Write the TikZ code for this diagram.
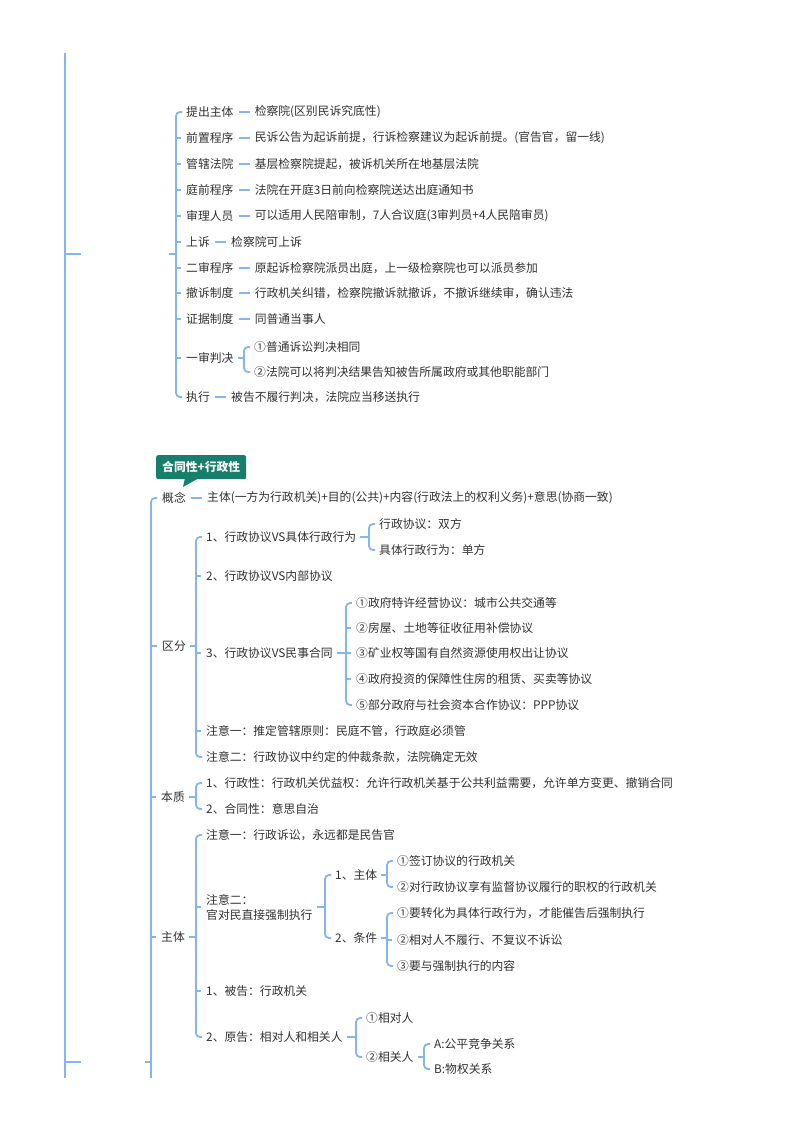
\documentclass[tikz,border=0pt]{standalone}
\usepackage{fontspec}
\setmainfont{Noto Sans CJK SC}
\usetikzlibrary{calc,positioning}
\definecolor{lnc}{RGB}{130,182,236}
\definecolor{txc}{RGB}{50,50,50}
\definecolor{tealc}{RGB}{22,126,106}
\newcommand\dashc[2]{\draw[conn] ($(#1.east)+(5pt,0)$) -- ($(#2.west)+(-5pt,0)$);}
\newcommand\brackii[3]{%
  \draw[conn] ($(#1.east)+(4pt,0)$) -- ($(#2.west |- #1.east)+(-10pt,0)$);
  \draw[conn, rounded corners=4pt] ($(#2.west)+(-4pt,0)$) -- ($(#2.west)+(-10pt,0)$) -- ($(#3.west)+(-10pt,0)$) -- ($(#3.west)+(-4pt,0)$);}
\newcommand\brackn[4]{%
  \brackii{#1}{#2}{#3}%
  \foreach \c in {#4} {\draw[conn] ($(\c.west)+(-10pt,0)$) -- ($(\c.west)+(-5pt,0)$);}}
\begin{document}
\begin{tikzpicture}[x=1pt,y=-1pt,
  conn/.style={draw=lnc, line width=1.8pt},
  txt/.style={anchor=west, inner sep=0pt, text=txc, font=\fontsize{11.8}{15}\selectfont},
  val/.style={txt, right=21pt of #1},
]
\fill[white] (0,0) rectangle (800,1132);
\useasboundingbox (0,0) rectangle (800,1132);

% root line
\coordinate (r0) at (65,53);
\coordinate (r1) at (65,1078);
\coordinate (ra) at (65,254);
\coordinate (rb) at (81,254);
\coordinate (rc) at (65,1062);
\coordinate (rd) at (81,1062);
\draw[conn] (r0) -- (r1);
\draw[conn] (ra) -- (rb);
\draw[conn] (rc) -- (rd);

% ---------- top group ----------
\node[txt] (t1) at (186,112) {提出主体};
\node[txt] (t2) at (186,138) {前置程序};
\node[txt] (t3) at (186,164) {管辖法院};
\node[txt] (t4) at (186,190) {庭前程序};
\node[txt] (t5) at (186,216) {审理人员};
\node[txt] (t6) at (186,242) {上诉};
\node[txt] (t7) at (186,268) {二审程序};
\node[txt] (t8) at (186,293) {撤诉制度};
\node[txt] (t9) at (186,319) {证据制度};
\node[txt] (t10) at (186,358) {一审判决};
\node[txt] (t11) at (186,397) {执行};

\node[val=t1] (v1) {检察院(区别民诉究底性)};
\node[val=t2] (v2) {民诉公告为起诉前提，行诉检察建议为起诉前提。(官告官，留一线)};
\node[val=t3] (v3) {基层检察院提起，被诉机关所在地基层法院};
\node[val=t4] (v4) {法院在开庭3日前向检察院送达出庭通知书};
\node[val=t5] (v5) {可以适用人民陪审制，7人合议庭(3审判员+4人民陪审员)};
\node[val=t6] (v6) {检察院可上诉};
\node[val=t7] (v7) {原起诉检察院派员出庭，上一级检察院也可以派员参加};
\node[val=t8] (v8) {行政机关纠错，检察院撤诉就撤诉，不撤诉继续审，确认违法};
\node[val=t9] (v9) {同普通当事人};
\node[val=t11] (v11) {被告不履行判决，法院应当移送执行};
\node[txt] (j1) at (254,347) {①普通诉讼判决相同};
\node[txt] (j2) at (254,372) {②法院可以将判决结果告知被告所属政府或其他职能部门};

\foreach \a/\b in {t1/v1,t2/v2,t3/v3,t4/v4,t5/v5,t6/v6,t7/v7,t8/v8,t9/v9,t11/v11} {\dashc{\a}{\b}}
\brackii{t10}{j1}{j2}

\coordinate (g1) at (169,254);
\coordinate (g2) at (176,254);
\draw[conn] (g1) -- (g2);
\draw[conn, rounded corners=4pt] ($(t1.west)+(-4pt,0)$) -- ($(t1.west)+(-10pt,0)$) -- ($(t11.west)+(-10pt,0)$) -- ($(t11.west)+(-4pt,0)$);
\foreach \c in {t2,t3,t4,t5,t6,t7,t8,t9,t10} {\draw[conn] ($(\c.west)+(-10pt,0)$) -- ($(\c.west)+(-5pt,0)$);}

% ---------- callout ----------
\node[fill=tealc, text=white, rounded corners=2pt, inner xsep=6pt, minimum height=24pt, anchor=north west,
  font=\fontsize{11.8}{14}\selectfont\bfseries] (co) at (156,455) {合同性+行政性};
\fill[tealc] (185,478) -- (183,487) -- (199,478) -- cycle;

% ---------- second group ----------
\node[txt] (gn) at (162,498) {概念};
\node[val=gn] (gnv) {主体(一方为行政机关)+目的(公共)+内容(行政法上的权利义务)+意思(协商一致)};
\dashc{gn}{gnv}
\node[txt] (qf) at (162,646) {区分};
\node[txt] (bz) at (161,797) {本质};
\node[txt] (zt) at (161,937) {主体};

\coordinate (m0) at (151,1078);
\coordinate (m1) at (145,1062);
\coordinate (m2) at (151,1062);
\draw[conn, rounded corners=4pt] ($(gn.west)+(-5pt,0)$) -- ($(gn.west)+(-11pt,0)$) -- (m0);
\draw[conn] (m1) -- (m2);
\foreach \c in {qf,bz,zt} {\draw[conn] ($(gn.west |- \c.west)+(-11pt,0)$) -- ($(\c.west)+(-5pt,0)$);}

% 区分
\node[txt] (c1) at (206,537) {1、行政协议VS具体行政行为};
\node[txt] (c2) at (206,576) {2、行政协议VS内部协议};
\node[txt] (c3) at (206,653) {3、行政协议VS民事合同};
\node[txt] (c4) at (206,731) {注意一：推定管辖原则：民庭不管，行政庭必须管};
\node[txt] (c5) at (206,757) {注意二：行政协议中约定的仲裁条款，法院确定无效};
\brackn{qf}{c1}{c5}{c2,c3,c4}

\node[txt] (d1) at (379,524) {行政协议：双方};
\node[txt] (d2) at (379,550) {具体行政行为：单方};
\brackii{c1}{d1}{d2}

\node[txt] (e1) at (356,603) {①政府特许经营协议：城市公共交通等};
\node[txt] (e2) at (356,628) {②房屋、土地等征收征用补偿协议};
\node[txt] (e3) at (356,653) {③矿业权等国有自然资源使用权出让协议};
\node[txt] (e4) at (356,679) {④政府投资的保障性住房的租赁、买卖等协议};
\node[txt] (e5) at (356,705) {⑤部分政府与社会资本合作协议：PPP协议};
\brackn{c3}{e1}{e5}{e2,e3,e4}

% 本质
\node[txt] (b1) at (206,783) {1、行政性：行政机关优益权：允许行政机关基于公共利益需要，允许单方变更、撤销合同};
\node[txt] (b2) at (206,809) {2、合同性：意思自治};
\brackii{bz}{b1}{b2}

% 主体
\node[txt] (z1) at (206,835) {注意一：行政诉讼，永远都是民告官};
\node[txt, align=left] (z2) at (206,907) {注意二：\\官对民直接强制执行};
\node[txt] (z3) at (206,991) {1、被告：行政机关};
\node[txt] (z4) at (206,1037) {2、原告：相对人和相关人};
\brackn{zt}{z1}{z4}{z2,z3}

\node[txt] (k1) at (335,875) {1、主体};
\node[txt] (k2) at (335,938) {2、条件};
\brackii{z2}{k1}{k2}

\node[txt] (p1) at (397,861) {①签订协议的行政机关};
\node[txt] (p2) at (397,887) {②对行政协议享有监督协议履行的职权的行政机关};
\brackii{k1}{p1}{p2}

\node[txt] (q1) at (397,913) {①要转化为具体行政行为，才能催告后强制执行};
\node[txt] (q2) at (397,940) {②相对人不履行、不复议不诉讼};
\node[txt] (q3) at (397,966) {③要与强制执行的内容};
\brackn{k2}{q1}{q3}{q2}

\node[txt] (s1) at (366,1018) {①相对人};
\node[txt] (s2) at (366,1057) {②相关人};
\brackii{z4}{s1}{s2}

\node[txt] (u1) at (434,1044) {A:公平竞争关系};
\node[txt] (u2) at (434,1069) {B:物权关系};
\brackii{s2}{u1}{u2}
\end{tikzpicture}
\end{document}
